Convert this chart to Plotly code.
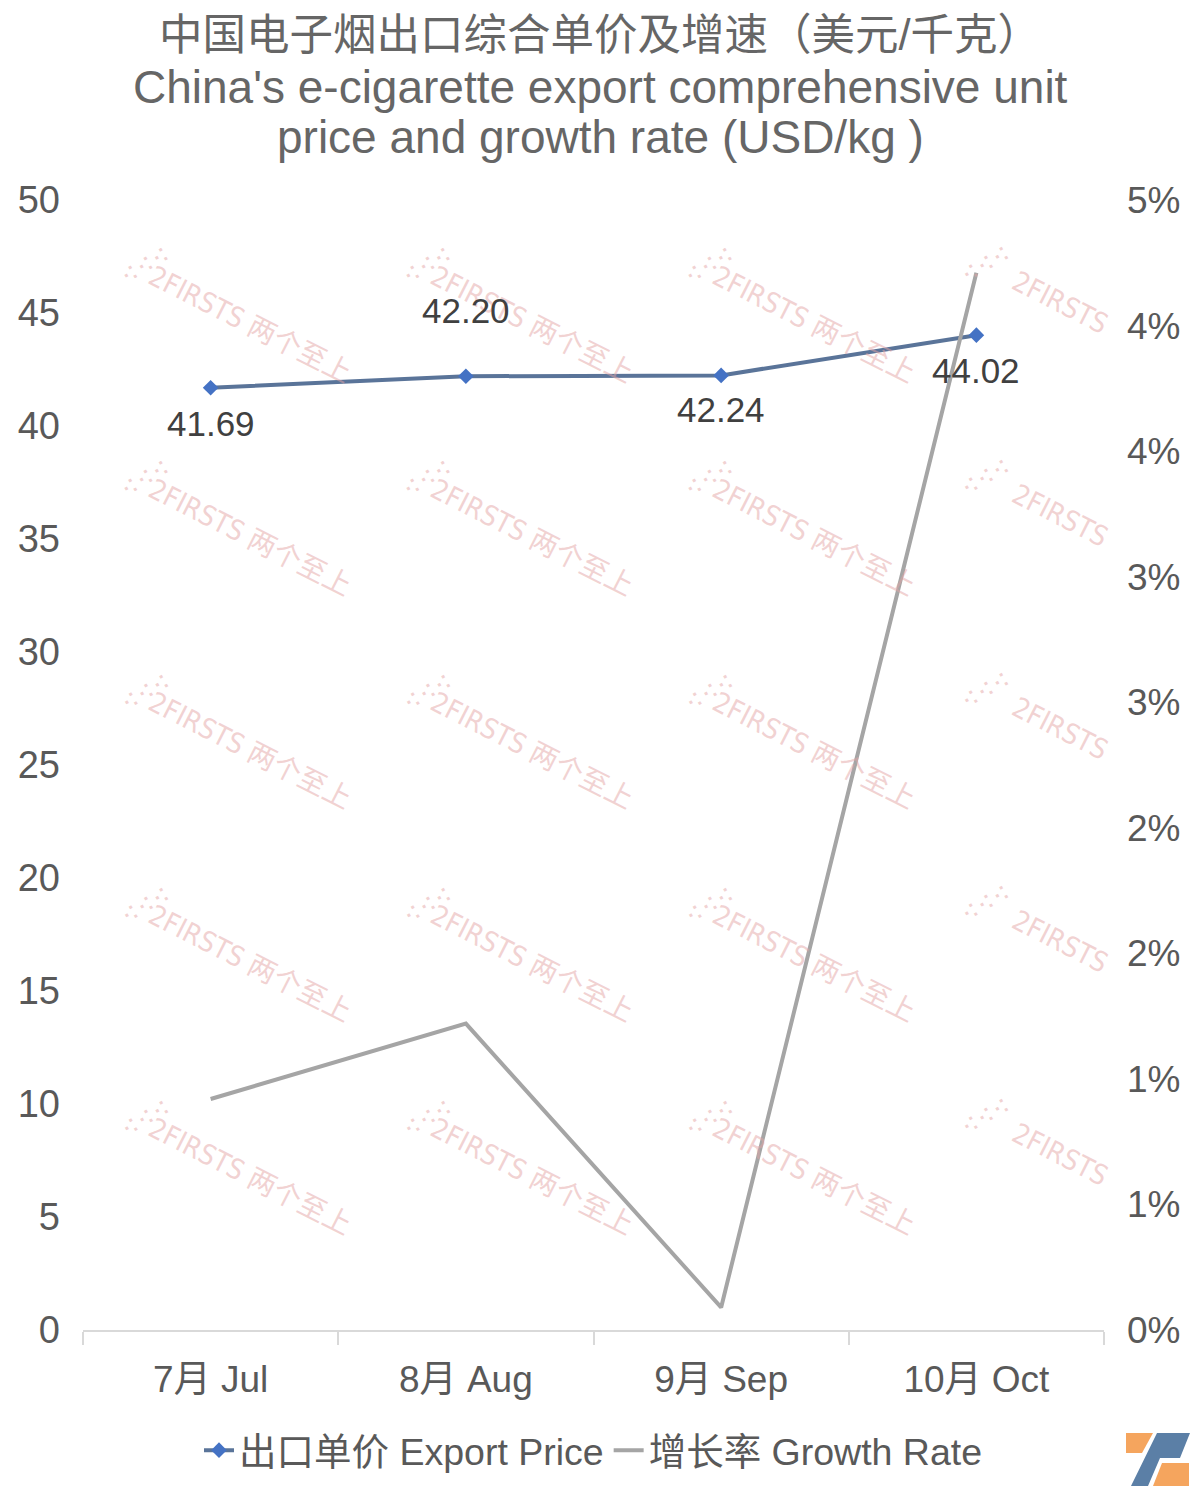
import plotly.graph_objects as go

months = ["7月 Jul", "8月 Aug", "9月 Sep", "10月 Oct"]
price = [41.69, 42.20, 42.24, 44.02]
growth = [0.0092, 0.0122, 0.0009, 0.0421]
price_labels = ["41.69", "42.20", "42.24", "44.02"]
label_shift = [-36, 66, -34, -35]
right_ticks = [0, 0.005, 0.01, 0.015, 0.02, 0.025, 0.03, 0.035, 0.04, 0.045]
right_text = ["0%", "1%", "1%", "2%", "2%", "3%", "3%", "4%", "4%", "5%"]
title_lines = ["中国电子烟出口综合单价及增速（美元/千克）",
               "China's e-cigarette export comprehensive unit",
               "price and growth rate (USD/kg )"]

FONT = "Liberation Sans, Noto Sans CJK SC, sans-serif"
W, H = 1200, 1499
L, R, T, B = 83, 1104, 200, 1330


def px2paper(px, py):
    return (px - L) / (R - L), (B - py) / (B - T)


fig = go.Figure()

fig.add_trace(go.Scatter(
    x=months, y=price, name="出口单价 Export Price", mode="lines+markers",
    line=dict(color="#5a7499", width=4),
    marker=dict(symbol="diamond", size=12, color="#4472c4"),
    yaxis="y",
))
fig.add_trace(go.Scatter(
    x=months, y=growth, name="增长率 Growth Rate", mode="lines",
    line=dict(color="#a5a5a5", width=4),
    yaxis="y2",
))

# watermark (decoration)
WM_FONT = "Liberation Sans Narrow, DejaVu Sans Condensed, Noto Sans CJK SC"
WM_COL = "rgba(228,165,165,0.5)"
cols = [250, 532, 814]
rows = [324, 537, 750, 963, 1176]
for cx in cols + [1060]:
    for cy in rows:
        if cx == 1060:
            txt, tx, ty = "2FIRSTS", 1060, cy - 22
            ix, iy = 985, cy - 60
        else:
            txt, tx, ty = "2FIRSTS 两个至上", cx, cy
            ix, iy = cx - 105, cy - 58
        xx, yy = px2paper(tx, ty)
        fig.add_annotation(xref="paper", yref="paper", x=xx, y=yy, text=txt,
                           showarrow=False, textangle=27, xanchor="center", yanchor="middle",
                           font=dict(size=28, color=WM_COL, family=WM_FONT))
        ax, ay = px2paper(ix, iy)
        fig.add_annotation(xref="paper", yref="paper", x=ax, y=ay, text="⁖⁖⁖",
                           showarrow=False, textangle=-30, xanchor="center", yanchor="middle",
                           font=dict(size=30, color=WM_COL, family="DejaVu Sans"))

for m, v, t, s in zip(months, price, price_labels, label_shift):
    fig.add_annotation(x=m, y=v, text=t, showarrow=False, yshift=s,
                       font=dict(size=35, color="#404040", family=FONT))

# title lines
title_y = [35, 87, 137]
title_size = [43.5, 46, 46]
for txt, py, sz in zip(title_lines, title_y, title_size):
    xx, yy = px2paper(600, py)
    fig.add_annotation(xref="paper", yref="paper", x=xx, y=yy, text=txt, showarrow=False,
                       xanchor="center", yanchor="middle",
                       font=dict(size=sz, color="#666666", family=FONT))

# logo (decoration)
def pth(pts):
    s = ""
    for i, (px, py) in enumerate(pts):
        xx, yy = px2paper(px, py)
        s += ("M" if i == 0 else "L") + f"{xx:.5f},{yy:.5f} "
    return s + "Z"

fig.add_shape(type="path", xref="paper", yref="paper", line=dict(width=0),
              fillcolor="#f5a55e", path=pth([(1126, 1433), (1153, 1433), (1142, 1453), (1126, 1453)]))
fig.add_shape(type="path", xref="paper", yref="paper", line=dict(width=0),
              fillcolor="#5b7fa6", path=pth([(1157, 1433), (1190, 1433), (1180, 1458), (1160, 1458), (1148, 1486), (1131, 1486)]))
fig.add_shape(type="path", xref="paper", yref="paper", line=dict(width=0),
              fillcolor="#f5a55e", path=pth([(1162, 1463), (1189, 1463), (1189, 1486), (1153, 1486)]))

fig.update_layout(
    width=W, height=H,
    paper_bgcolor="white", plot_bgcolor="white",
    margin=dict(l=L, r=W - R, t=T, b=H - B, autoexpand=False),
    font=dict(family=FONT, color="#595959", size=32),
    xaxis=dict(type="category", range=[-0.5, 3.5], autorange=False, automargin=False,
               showline=True, linecolor="#d9d9d9", linewidth=2,
               ticks="outside", tickson="boundaries", ticklen=13, tickcolor="#d9d9d9",
               tickwidth=2, showgrid=False, tickfont=dict(size=37, color="#595959"),
               ticklabelstandoff=16),
    yaxis=dict(range=[0, 50], dtick=5, showgrid=False, zeroline=False, showline=False,
               automargin=False, tickfont=dict(size=38, color="#595959"), ticks="",
               ticklabelstandoff=22),
    yaxis2=dict(range=[0, 0.045], overlaying="y", side="right", tickvals=right_ticks,
                ticktext=right_text, showgrid=False, zeroline=False, showline=False,
                automargin=False, tickfont=dict(size=37, color="#595959"),
                ticklabelstandoff=22),
    legend=dict(orientation="h", x=0.5, xanchor="center", y=-0.079, yanchor="top",
                font=dict(size=37.5, color="#595959"), itemwidth=30, tracegroupgap=0),
    showlegend=True,
)

fig.write_html("out.html", config={"displayModeBar": False},
               post_script="document.body.style.margin='0';document.body.style.overflow='hidden';")
